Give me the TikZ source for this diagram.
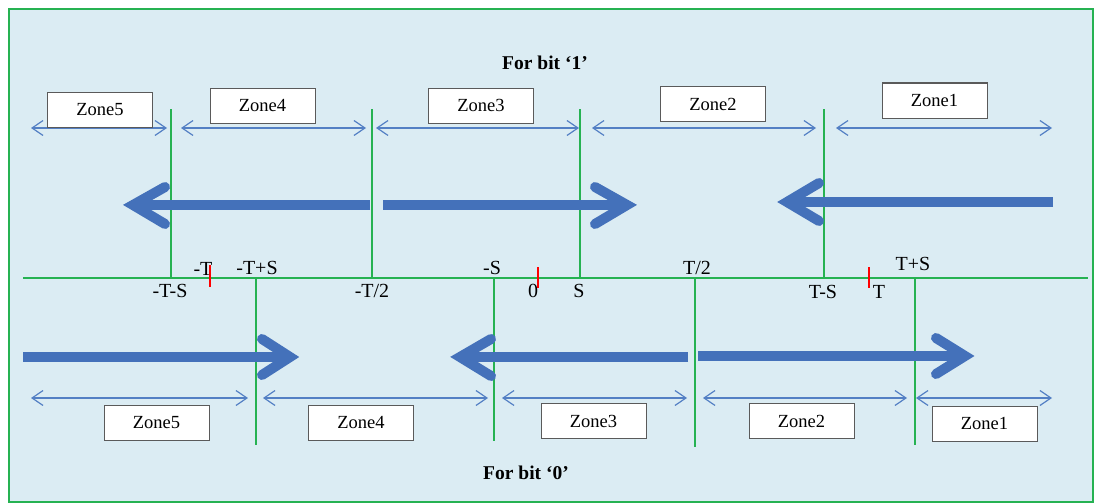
\documentclass[tikz,border=0pt]{standalone}
\usepackage{fontspec}
\setmainfont{Liberation Serif}
\usetikzlibrary{arrows.meta,calc}

\definecolor{panelbg}{RGB}{219,236,243}
\definecolor{framegreen}{RGB}{38,178,82}
\definecolor{spanblue}{RGB}{84,128,196}
\definecolor{flowblue}{RGB}{68,113,186}
\definecolor{boxedge}{RGB}{90,90,90}

\tikzset{
  zonebox/.style={draw=boxedge, line width=1pt, fill=white, minimum width=105pt,
    minimum height=35pt, inner sep=0pt, font=\fontsize{18.5}{21}\selectfont},
  ticklabel/.style={inner sep=0pt, font=\fontsize{20}{23}\selectfont},
  heading/.style={inner sep=0pt, font=\fontsize{19.5}{22}\selectfont\bfseries},
  boundary/.style={draw=framegreen, line width=1.8pt},
  marker/.style={draw=red, line width=1.8pt},
  span/.style={draw=spanblue, line width=1.2pt,
    {Straight Barb[length=11pt,width=15pt]}-{Straight Barb[length=11pt,width=15pt]}},
  flowshaft/.style={draw=flowblue, line width=10pt, line cap=butt},
  flowhead/.style={draw=flowblue, line width=10pt, line cap=round, line join=miter}
}

\begin{document}
\begin{tikzpicture}[x=1pt, y=-1pt]
\useasboundingbox (0,0) rectangle (1095,503);

% panel and frame
\fill[white] (0,0) rectangle (1095,503);
\fill[panelbg] (9,9) rectangle (1093,502);
\draw[framegreen, line width=2.2pt] (9,9) rectangle (1093,502);

% time axis
\coordinate (axL) at (23,278);
\coordinate (axR) at (1088,278);
\draw[boundary] (axL) -- (axR);

% zone boundaries for bit 1 (above the axis)
\coordinate (u1t) at (171,109); \coordinate (u1b) at (171,278);
\coordinate (u2t) at (372,109); \coordinate (u2b) at (372,278);
\coordinate (u3t) at (580,109); \coordinate (u3b) at (580,278);
\coordinate (u4t) at (824,109); \coordinate (u4b) at (824,278);
\draw[boundary] (u1t) -- (u1b);
\draw[boundary] (u2t) -- (u2b);
\draw[boundary] (u3t) -- (u3b);
\draw[boundary] (u4t) -- (u4b);

% zone boundaries for bit 0 (below the axis)
\coordinate (d1t) at (256,278); \coordinate (d1b) at (256,445);
\coordinate (d2t) at (494,278); \coordinate (d2b) at (494,441);
\coordinate (d3t) at (695,278); \coordinate (d3b) at (695,447);
\coordinate (d4t) at (915,278); \coordinate (d4b) at (915,445);
\draw[boundary] (d1t) -- (d1b);
\draw[boundary] (d2t) -- (d2b);
\draw[boundary] (d3t) -- (d3b);
\draw[boundary] (d4t) -- (d4b);

% red markers at -T, 0 and T
\coordinate (m1t) at (210,265); \coordinate (m1b) at (210,287);
\coordinate (m2t) at (538,267); \coordinate (m2b) at (538,288);
\coordinate (m3t) at (869,267); \coordinate (m3b) at (869,288);
\draw[marker] (m1t) -- (m1b);
\draw[marker] (m2t) -- (m2b);
\draw[marker] (m3t) -- (m3b);

% axis labels
\node[ticklabel] (lTmS)  at (170,291) {-T-S};
\node[ticklabel] (lmT)   at (203,269) {-T};
\node[ticklabel] (lTpS)  at (257,268) {-T+S};
\node[ticklabel] (lmT2)  at (372,291) {-T/2};
\node[ticklabel] (lmS)   at (492,268) {-S};
\node[ticklabel] (lzero) at (533,291) {0};
\node[ticklabel] (lS)    at (579,291) {S};
\node[ticklabel] (lT2)   at (697,268) {T/2};
\node[ticklabel] (lTS)   at (823,292) {T-S};
\node[ticklabel] (lT)    at (879,292) {T};
\node[ticklabel] (lTpS2) at (913,264) {T+S};

% headings
\node[heading] (h1) at (545,63) {For bit ‘1’};
\node[heading] (h0) at (526,473) {For bit ‘0’};

% zone spans for bit 1
\coordinate (sa0) at (31,128);  \coordinate (sa1) at (167,128);
\coordinate (sb0) at (181,128); \coordinate (sb1) at (366,128);
\coordinate (sc0) at (376,128); \coordinate (sc1) at (579,128);
\coordinate (sd0) at (592,128); \coordinate (sd1) at (816,128);
\coordinate (se0) at (836,128); \coordinate (se1) at (1052,128);
\draw[span] (sa0) -- (sa1);
\draw[span] (sb0) -- (sb1);
\draw[span] (sc0) -- (sc1);
\draw[span] (sd0) -- (sd1);
\draw[span] (se0) -- (se1);

% zone spans for bit 0
\coordinate (ta0) at (31,398);  \coordinate (ta1) at (248,398);
\coordinate (tb0) at (263,398); \coordinate (tb1) at (488,398);
\coordinate (tc0) at (502,398); \coordinate (tc1) at (687,398);
\coordinate (td0) at (703,398); \coordinate (td1) at (907,398);
\coordinate (te0) at (916,398); \coordinate (te1) at (1052,398);
\draw[span] (ta0) -- (ta1);
\draw[span] (tb0) -- (tb1);
\draw[span] (tc0) -- (tc1);
\draw[span] (td0) -- (td1);
\draw[span] (te0) -- (te1);

% zone boxes for bit 1
\node[zonebox] (z5u) at (100,109.5) {Zone5};
\node[zonebox] (z4u) at (262.5,106) {Zone4};
\node[zonebox] (z3u) at (481,105.5) {Zone3};
\node[zonebox] (z2u) at (713,104) {Zone2};
\node[zonebox] (z1u) at (934.5,100.5) {Zone1};

% zone boxes for bit 0
\node[zonebox] (z5d) at (156.5,422.5) {Zone5};
\node[zonebox] (z4d) at (361,422.5) {Zone4};
\node[zonebox] (z3d) at (593.5,421) {Zone3};
\node[zonebox] (z2d) at (801.5,421) {Zone2};
\node[zonebox] (z1d) at (984.5,423.5) {Zone1};

% movement arrows for bit 1 (tip coordinates sit inside the mitred point)
\coordinate (fa0) at (370,205); \coordinate (faT) at (133,205);
\coordinate (fau) at (165,187); \coordinate (fad) at (165,224);
\draw[flowshaft] (fa0) -- ($(faT)+(4,0)$);
\draw[flowhead] (fau) -- (faT) -- (fad);

\coordinate (fb0) at (383,205); \coordinate (fbT) at (627,205);
\coordinate (fbu) at (595,187); \coordinate (fbd) at (595,224);
\draw[flowshaft] (fb0) -- ($(fbT)+(-4,0)$);
\draw[flowhead] (fbu) -- (fbT) -- (fbd);

\coordinate (fc0) at (1053,202); \coordinate (fcT) at (787,202);
\coordinate (fcu) at (819,183); \coordinate (fcd) at (819,221);
\draw[flowshaft] (fc0) -- ($(fcT)+(4,0)$);
\draw[flowhead] (fcu) -- (fcT) -- (fcd);

% movement arrows for bit 0
\coordinate (ga0) at (23,357); \coordinate (gaT) at (290,357);
\coordinate (gau) at (262,339); \coordinate (gad) at (262,375);
\draw[flowshaft] (ga0) -- ($(gaT)+(-4,0)$);
\draw[flowhead] (gau) -- (gaT) -- (gad);

\coordinate (gb0) at (688,357); \coordinate (gbT) at (460,357);
\coordinate (gbu) at (491,339); \coordinate (gbd) at (491,376);
\draw[flowshaft] (gb0) -- ($(gbT)+(4,0)$);
\draw[flowhead] (gbu) -- (gbT) -- (gbd);

\coordinate (gc0) at (698,356); \coordinate (gcT) at (965,356);
\coordinate (gcu) at (936,338); \coordinate (gcd) at (936,374);
\draw[flowshaft] (gc0) -- ($(gcT)+(-4,0)$);
\draw[flowhead] (gcu) -- (gcT) -- (gcd);
\end{tikzpicture}
\end{document}
